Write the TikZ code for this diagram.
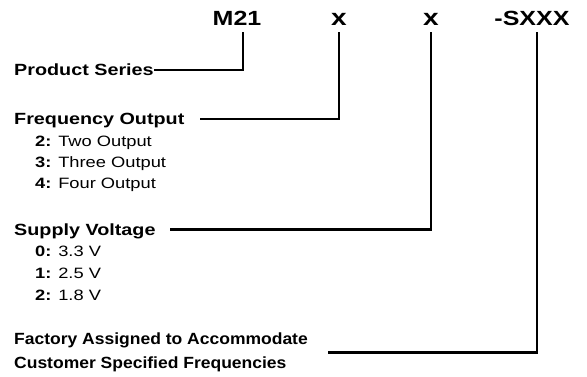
\documentclass[tikz,border=0pt]{standalone}
\usepackage{fontspec}
\setmainfont[FakeStretch=1.22]{Liberation Sans}
\usetikzlibrary{positioning}

\begin{document}
\begin{tikzpicture}[x=1pt, y=-1pt,
  hdr/.style={inner xsep=0pt, inner ysep=6.5pt, text depth=0pt, anchor=base,
              font=\fontsize{20.5}{20.5}\selectfont\bfseries},
  lbl/.style={inner sep=0pt, anchor=base west, text height=11.4pt, text depth=0pt,
              font=\fontsize{16.2}{16.2}\selectfont\bfseries},
  opt/.style={inner sep=0pt, anchor=base west,
              font=\fontsize{15}{15}\selectfont},
  conn/.style={line width=2.6pt}
]
\useasboundingbox (0,0) rectangle (587,376);

% Part number
\node[hdr] (m21) at (237,25.5) {M21};
\node[hdr, font=\fontsize{23}{23}\selectfont\bfseries] (xa) at (339,25.5) {x};
\node[hdr, font=\fontsize{23}{23}\selectfont\bfseries] (xb) at (431,25.5) {x};
\node[hdr] (sx) at (532,25.5) {-SXXX};

% Field labels
\node[lbl] (ps) at (14,75.7) {Product Series};
\node[lbl] (fo) at (14,124.5) {Frequency Output};
\node[lbl] (sv) at (14,235) {Supply Voltage};
\node[inner sep=0pt, anchor=north west, align=left,
      font=\fontsize{16.2}{24}\selectfont\bfseries\addfontfeatures{FakeStretch=1.08}] (fa) at (14,332.5)
      {Factory Assigned to Accommodate\\Customer Specified Frequencies};

% Options
\node[opt] (fo2) at (35,146.5) {\textbf{2:} Two Output};
\node[opt] (fo3) at (35,167.3) {\textbf{3:} Three Output};
\node[opt] (fo4) at (35,188.5) {\textbf{4:} Four Output};
\node[opt] (sv0) at (35,256.5) {\textbf{0:} 3.3 V};
\node[opt] (sv1) at (35,278) {\textbf{1:} 2.5 V};
\node[opt] (sv2) at (35,300.7) {\textbf{2:} 1.8 V};

% Connectors
\draw[conn] ([xshift=6pt]m21.south) |- (ps.east);
\draw[conn] (xa.south) |- ([xshift=15pt]fo.east);
\draw[conn] (xb.south) |- ([xshift=14pt]sv.east);
\draw[conn] ([xshift=5pt]sx.south) |- ([xshift=20pt]fa.east);
\end{tikzpicture}
\end{document}
